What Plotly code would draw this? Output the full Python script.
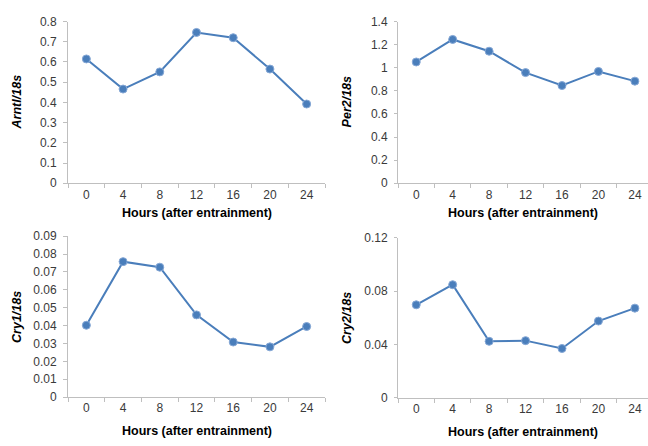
import plotly.graph_objects as go

hours = ["0", "4", "8", "12", "16", "20", "24"]
arntl = [0.615, 0.466, 0.551, 0.746, 0.720, 0.565, 0.392]
per2 = [1.05, 1.245, 1.143, 0.958, 0.846, 0.968, 0.884]
cry1 = [0.0402, 0.0758, 0.0727, 0.0460, 0.0308, 0.0281, 0.0395]
cry2 = [0.0697, 0.0848, 0.0423, 0.0428, 0.0369, 0.0575, 0.0672]

panels = [
    dict(y=arntl, label="Arntl", xa="x", ya="y"),
    dict(y=per2, label="Per2", xa="x2", ya="y2"),
    dict(y=cry1, label="Cry1", xa="x3", ya="y3"),
    dict(y=cry2, label="Cry2", xa="x4", ya="y4"),
]

BLUE = "#4a7ebb"
AX = "#bfbfbf"
FONT = "Liberation Sans, Arial, sans-serif"

fig = go.Figure()
for p in panels:
    fig.add_trace(go.Scatter(
        x=hours, y=p["y"], xaxis=p["xa"], yaxis=p["ya"],
        mode="lines+markers",
        line=dict(color=BLUE, width=2),
        marker=dict(color=BLUE, size=8, line=dict(color="#86a8d6", width=1)),
        showlegend=False, hoverinfo="x+y",
    ))

xl = [68 / 648, 325 / 648]
xr = [398 / 648, 1.0]
yt = [1 - 182 / 446, 1 - 15 / 446]
ybl = [1 - 402.7 / 446, 1 - 236.7 / 446]
ybr = [1 - 403.3 / 446, 1 - 238.3 / 446]

tickfont = dict(family=FONT, size=12, color="#3a3a3a")

def xaxis(domain, anchor, rng):
    return dict(domain=domain, anchor=anchor, type="category", range=rng,
                showline=True, linecolor=AX, linewidth=1, showgrid=False,
                zeroline=False, ticks="outside", tickson="boundaries",
                ticklen=4, tickcolor=AX, tickfont=tickfont, fixedrange=True)

def yaxis(domain, anchor, rng, dtick, tl):
    return dict(domain=domain, anchor=anchor, range=rng, dtick=dtick,
                showline=True, linecolor=AX, linewidth=1, showgrid=False,
                zeroline=False, ticks="outside", ticklen=tl, tickcolor=AX,
                ticklabelstandoff=4, tickfont=tickfont, fixedrange=True)

fig.update_layout(
    width=648, height=446,
    margin=dict(l=0, r=0, t=0, b=0),
    paper_bgcolor="white", plot_bgcolor="white",
    xaxis=xaxis(xl, "y", [-0.5, 6.5]),
    yaxis=yaxis(yt, "x", [0, 0.8], 0.1, 4),
    xaxis2=xaxis(xr, "y2", [-0.5, 6.36]),
    yaxis2=yaxis(yt, "x2", [0, 1.4], 0.2, 3),
    xaxis3=xaxis(xl, "y3", [-0.5, 6.5]),
    yaxis3=yaxis(ybl, "x3", [0, 0.09], 0.01, 4),
    xaxis4=xaxis(xr, "y4", [-0.5, 6.36]),
    yaxis4=yaxis(ybr, "x4", [0, 0.12], 0.04, 3),
)

title_font = dict(family=FONT, size=12.5, color="#000000")
xtitle = "<b>Hours (after entrainment)</b>"
ann = [
    dict(x=196.5 / 648, y=1 - 213 / 446, text=xtitle),
    dict(x=523 / 648, y=1 - 213 / 446, text=xtitle),
    dict(x=196.5 / 648, y=1 - 438 / 446, text=xtitle),
    dict(x=523 / 648, y=1 - 439 / 446, text=xtitle),
    dict(x=17 / 648, y=1 - 98.5 / 446, text="<b><i>" + panels[0]["label"] + "/18s</i></b>", textangle=-90),
    dict(x=347 / 648, y=1 - 98.5 / 446, text="<b><i>" + panels[1]["label"] + "/18s</i></b>", textangle=-90),
    dict(x=17 / 648, y=1 - 320 / 446, text="<b><i>" + panels[2]["label"] + "/18s</i></b>", textangle=-90),
    dict(x=347 / 648, y=1 - 321 / 446, text="<b><i>" + panels[3]["label"] + "/18s</i></b>", textangle=-90),
]
for a in ann:
    fig.add_annotation(xref="paper", yref="paper", showarrow=False,
                       xanchor="center", yanchor="middle", font=title_font, **a)

fig.write_html("out.html", config={"displayModeBar": False},
               post_script="document.body.style.margin='0';")
